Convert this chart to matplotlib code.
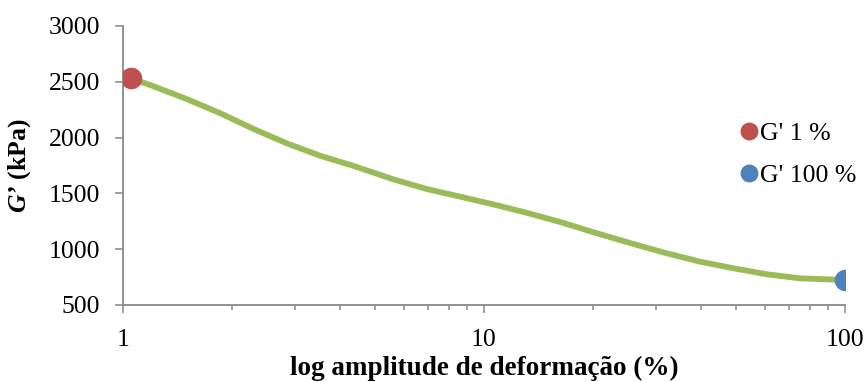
import matplotlib.pyplot as plt
from matplotlib.ticker import LogLocator, NullFormatter, FixedLocator, FixedFormatter

# values
strain = [1.05, 1.21, 1.50, 1.86, 2.30, 2.84, 3.51, 4.35, 5.61, 6.94, 8.58,
          10.6, 13.1, 16.2, 20.1, 25.9, 32.1, 39.7, 49.1, 60.7, 75.1, 89.0, 100]
g_prime = [2531, 2462, 2346, 2218, 2077, 1949, 1838, 1746, 1626, 1539, 1471,
           1402, 1327, 1245, 1152, 1047, 963, 888, 829, 775, 739, 730, 724]
g1_x, g1_y = [1.05], [2531]
g100_x, g100_y = [100], [724]

plt.rcParams['font.family'] = ['Liberation Serif', 'DejaVu Serif']
plt.rcParams['mathtext.fontset'] = 'custom'
plt.rcParams['mathtext.rm'] = 'Liberation Serif'
plt.rcParams['mathtext.it'] = 'Liberation Serif:italic'
plt.rcParams['mathtext.bf'] = 'Liberation Serif:bold'
plt.rcParams['mathtext.bfit'] = 'Liberation Serif:bold:italic'

axis_grey = '#898989'

fig = plt.figure(figsize=(8.65, 3.82), dpi=100)
ax = fig.add_axes([0.1422, 0.2016, 0.8347, 0.7304])

ax.plot(strain, g_prime, color='#9BBB59', lw=4.2, solid_capstyle='round',
        solid_joinstyle='round', zorder=2)
ax.plot(g1_x, g1_y, 'o', color='#C0504D', ms=14.5, label="G' 1 %", zorder=3)
ax.plot(g100_x, g100_y, 'o', color='#4F81BD', ms=14.5, label="G' 100 %", zorder=3)

ax.set_xscale('log')
ax.set_xlim(1, 100)
ax.set_ylim(500, 3000)
ax.set_yticks([500, 1000, 1500, 2000, 2500, 3000])
ax.xaxis.set_major_locator(FixedLocator([1, 10, 100]))
ax.xaxis.set_major_formatter(FixedFormatter(['1', '10', '100']))
ax.xaxis.set_minor_locator(LogLocator(base=10, subs=range(2, 10)))
ax.xaxis.set_minor_formatter(NullFormatter())

for s in ['top', 'right']:
    ax.spines[s].set_visible(False)
for s in ['left', 'bottom']:
    ax.spines[s].set_color(axis_grey)
    ax.spines[s].set_linewidth(1.3)

ax.tick_params(axis='both', which='major', direction='out', length=5.5, width=1.1,
               color=axis_grey, labelsize=18.5)
ax.tick_params(axis='x', which='minor', direction='out', length=3.6, width=1.1, color=axis_grey)
ax.tick_params(axis='x', which='major', pad=12)
ax.tick_params(axis='y', which='major', pad=11)

ax.set_xlabel('log amplitude de deformação (%)', fontsize=19.5, fontweight='bold', labelpad=3)
ax.set_ylabel(r"$\mathbfit{G’}$ (kPa)", fontsize=18.5, fontweight='bold', labelpad=11)

leg = ax.legend(loc='center left', bbox_to_anchor=(0.842, 0.54), frameon=False, fontsize=18.5,
                handlelength=0.6, handletextpad=0.15, labelspacing=0.75, markerscale=0.82,
                borderaxespad=0)

fig.savefig('out.png', dpi=100)
